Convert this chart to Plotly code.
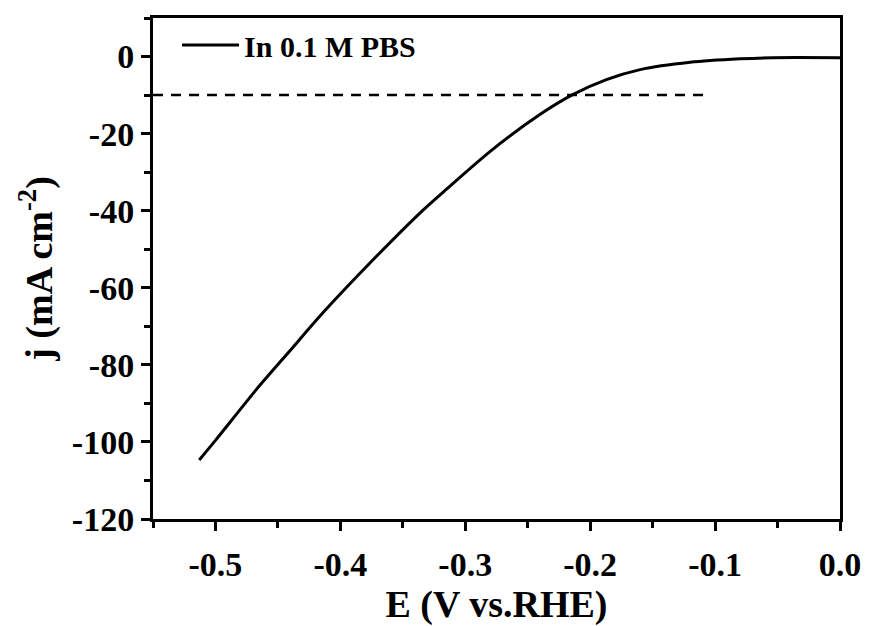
import plotly.graph_objects as go

# LSV curve
potential = [-0.513, -0.50, -0.467, -0.44, -0.414, -0.374, -0.334, -0.315, -0.28,
             -0.24, -0.214, -0.187, -0.16, -0.12, -0.08, -0.054, 0.0]
current = [-104.7, -99.6, -86.3, -76.2, -66.5, -52.8, -39.9, -34.4, -24.6,
           -15.0, -9.9, -6.0, -3.4, -1.5, -0.6, -0.3, -0.3]

# dashed 10 mA cm-2 marker
ref_x = [-0.55, -0.104]
ref_y = [-10, -10]

x_ticks = [-0.5, -0.4, -0.3, -0.2, -0.1, 0.0]
x_labels = ["-0.5", "-0.4", "-0.3", "-0.2", "-0.1", "0.0"]
y_ticks = [0, -20, -40, -60, -80, -100, -120]
y_labels = ["0", "-20", "-40", "-60", "-80", "-100", "-120"]

font_family = "Liberation Serif"

fig = go.Figure()
fig.add_trace(go.Scatter(
    x=potential, y=current, mode="lines",
    line=dict(color="black", width=3, shape="spline", smoothing=0.7),
    name="<b>In 0.1 M PBS</b>"
))
fig.add_trace(go.Scatter(
    x=ref_x, y=ref_y, mode="lines",
    line=dict(color="black", width=2.5, dash="10px,8px"),
    showlegend=False, hoverinfo="skip"
))

axis_common = dict(
    showline=True, linecolor="black", linewidth=3, mirror=True,
    ticks="outside", ticklen=9, tickwidth=3, tickcolor="black",
    showgrid=False, zeroline=False,
    tickfont=dict(family=font_family, size=34, color="black", weight="bold"),
)

fig.update_xaxes(
    range=[-0.55, 0.0], tickvals=x_ticks, ticktext=x_labels,
    minor=dict(ticks="outside", ticklen=6, tickwidth=3, tickcolor="black", dtick=0.05, tick0=0),
    ticklabelstandoff=4,
    title=dict(text="<b>E (V vs.RHE)</b>", font=dict(family=font_family, size=38, color="black"),
               standoff=10),
    **axis_common
)
fig.update_yaxes(
    range=[-120, 10], tickvals=y_ticks, ticktext=y_labels,
    minor=dict(ticks="outside", ticklen=6, tickwidth=3, tickcolor="black", dtick=10, tick0=0),
    title=dict(text="<b>j (mA cm<sup>-2</sup>)</b>", font=dict(family=font_family, size=38, color="black"),
               standoff=8),
    **axis_common
)

# page body has an 8px margin, so the figure is a bit smaller than the window
fig.update_layout(
    width=862, height=618,
    margin=dict(l=145, r=30, t=7, b=105),
    plot_bgcolor="white", paper_bgcolor="white",
    legend=dict(x=0.035, y=0.998, xanchor="left", yanchor="top",
                bgcolor="rgba(0,0,0,0)", itemwidth=57,
                font=dict(family=font_family, size=30, color="black")),
)

fig.write_html("out.html")
